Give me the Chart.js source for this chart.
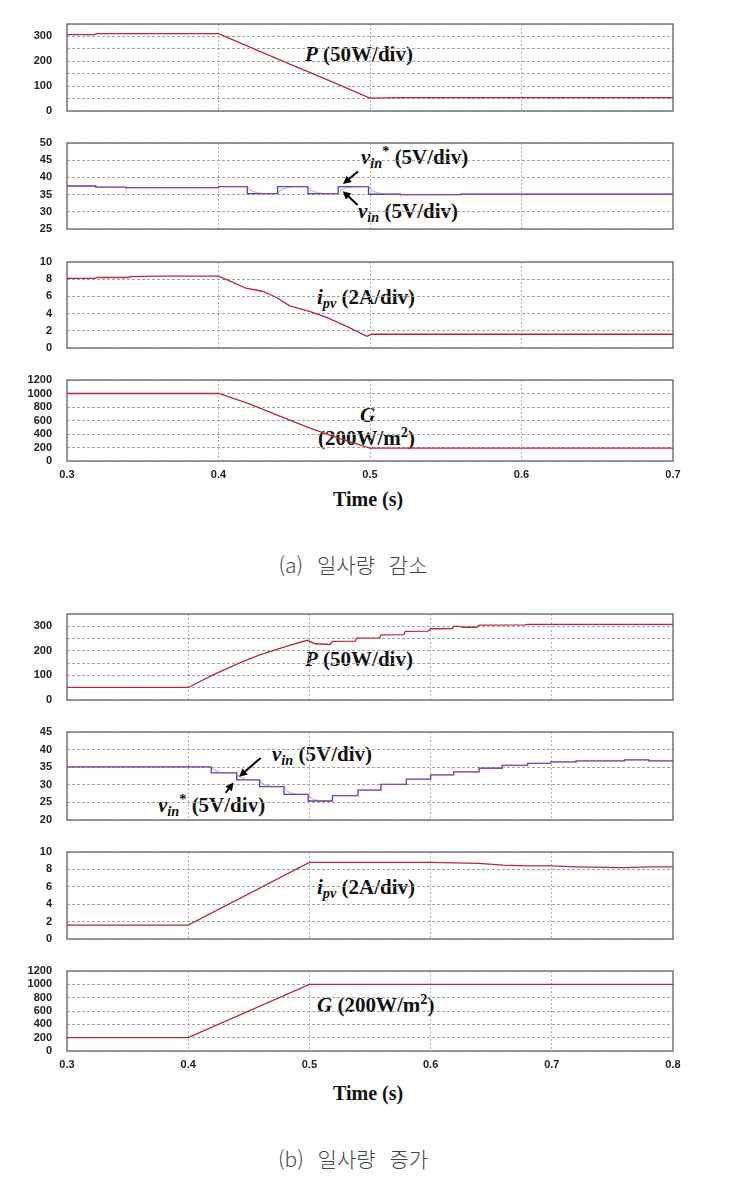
<!DOCTYPE html>
<html lang="ko">
<head>
<meta charset="utf-8">
<title>일사량 변화 응답</title>
<script src="https://cdn.jsdelivr.net/npm/chart.js@4.4.1/dist/chart.umd.min.js"></script>
<style>
  html, body { margin: 0; padding: 0; background: #fff; }
  #page { position: relative; width: 753px; height: 1185px; overflow: hidden; }
  #page canvas { position: absolute; }
  .lbl { position: absolute; font-family: "Liberation Serif", "Times New Roman", serif; font-weight: bold;
         font-size: 21px; line-height: 21px; color: #111; white-space: nowrap; }
  .lbl sub, .lbl sup { line-height: 0; font-size: 0.68em; }
  .lbl sub { vertical-align: -0.3em; }
  .lbl sup { vertical-align: 0.55em; }
  .time { position: absolute; font-family: "Liberation Serif", "Times New Roman", serif; font-weight: bold;
          font-size: 20px; line-height: 20px; color: #111; white-space: nowrap; }
  .cap { position: absolute; left: 0; width: 706px; text-align: center; font-family: "Noto Sans CJK KR", sans-serif;
         font-weight: 300; font-size: 21px; line-height: 24px; color: #444; word-spacing: 8px; }
</style>
</head>
<body>
<div id="page">
  <!-- (a) labels -->
  <div class="lbl" style="left:305px;top:44px"><i>P</i> (50W/div)</div>
  <div class="lbl" style="left:361px;top:147px"><i>v</i><sub><i>in</i></sub><sup>*</sup> (5V/div)</div>
  <div class="lbl" style="left:358px;top:201px"><i>v</i><sub><i>in</i></sub> (5V/div)</div>
  <div class="lbl" style="left:317px;top:287px"><i>i</i><sub><i>pv</i></sub> (2A/div)</div>
  <div class="lbl" style="left:360px;top:405px"><i>G</i></div>
  <div class="lbl" style="left:318px;top:428px">(200W/m<sup>2</sup>)</div>
  <div class="time" style="left:333px;top:489px">Time (s)</div>
  <div class="cap" style="top:552px">(a) 일사량 감소</div>

  <!-- (b) labels -->
  <div class="lbl" style="left:305px;top:649px"><i>P</i> (50W/div)</div>
  <div class="lbl" style="left:272px;top:744px"><i>v</i><sub><i>in</i></sub> (5V/div)</div>
  <div class="lbl" style="left:158px;top:795px"><i>v</i><sub><i>in</i></sub><sup>*</sup> (5V/div)</div>
  <div class="lbl" style="left:317px;top:877px"><i>i</i><sub><i>pv</i></sub> (2A/div)</div>
  <div class="lbl" style="left:317px;top:995px"><i>G</i> (200W/m<sup>2</sup>)</div>
  <div class="time" style="left:333px;top:1083px">Time (s)</div>
  <div class="cap" style="top:1146px">(b) 일사량 증가</div>
</div>
<script>
//-----------------------------------------------------------------------------
// Data, (a) irradiance decrease
const timePA  = [0.3, 0.318, 0.32, 0.4, 0.44, 0.47, 0.5, 0.52, 0.7];
const powerA  = [307, 307, 311, 311, 207, 130, 52, 54, 54];

const timeRefA = [0.3, 0.319, 0.339, 0.4, 0.419, 0.439, 0.459, 0.479, 0.499, 0.52, 0.56, 0.7];
const vinRefA  = [37.5, 37.2, 37.0, 37.3, 35.3, 37.3, 35.3, 37.3, 35.1, 35.0, 35.1, 35.1];

const timeVinA = [0.3, 0.319, 0.3191, 0.339, 0.3391, 0.4, 0.4001, 0.419, 0.421, 0.425, 0.43, 0.439, 0.441, 0.445, 0.45,
                  0.459, 0.461, 0.465, 0.47, 0.479, 0.481, 0.485, 0.49, 0.499, 0.501, 0.505, 0.51, 0.52, 0.5201, 0.56, 0.5601, 0.7];
const vinA     = [37.5, 37.5, 37.2, 37.2, 37.0, 37.0, 37.3, 37.3, 36.3, 35.6, 35.3, 35.3, 36.4, 37.0, 37.3,
                  37.3, 36.3, 35.6, 35.3, 35.3, 36.4, 37.0, 37.3, 37.3, 36.2, 35.5, 35.1, 35.1, 35.0, 35.0, 35.1, 35.1];

const timeIpvA = [0.3, 0.318, 0.32, 0.34, 0.342, 0.36, 0.4, 0.41, 0.418, 0.429, 0.438, 0.447, 0.46, 0.471, 0.486, 0.498, 0.501, 0.7];
const ipvA     = [8.1, 8.1, 8.2, 8.2, 8.3, 8.35, 8.35, 7.6, 6.95, 6.6, 5.9, 4.9, 4.25, 3.6, 2.4, 1.35, 1.6, 1.6];

const timeGA = [0.3, 0.4, 0.42, 0.44, 0.46, 0.48, 0.5, 0.7];
const gA     = [1000, 1000, 850, 670, 490, 330, 190, 190];

// (b) irradiance increase
const timePB = [0.3, 0.4, 0.421, 0.442, 0.459, 0.481, 0.498, 0.505, 0.517, 0.519, 0.538, 0.539, 0.558, 0.559,
                0.578, 0.579, 0.598, 0.6, 0.618, 0.619, 0.624, 0.626, 0.638, 0.64, 0.678, 0.68, 0.8];
const powerB = [51, 51, 103, 150, 184, 218, 243, 229, 226, 239, 240, 252, 253, 265,
                266, 279, 280, 290, 291, 300, 300, 296, 296, 305, 306, 308, 308];

const timeRefB = [0.3, 0.419, 0.44, 0.459, 0.479, 0.499, 0.519, 0.54, 0.559, 0.58, 0.6, 0.619, 0.64, 0.659, 0.68, 0.699, 0.72, 0.76, 0.78, 0.8];
const vinRefB  = [35.1, 33.4, 31.4, 29.5, 27.3, 25.4, 26.9, 28.5, 30.1, 31.6, 32.8, 33.7, 34.7, 35.5, 36.1, 36.5, 36.8, 37.1, 36.8, 36.8];

const timeVinB = [0.3, 0.419, 0.421, 0.425, 0.43, 0.44, 0.442, 0.446, 0.45, 0.459, 0.461, 0.465, 0.47, 0.479, 0.481, 0.485, 0.49,
                  0.499, 0.501, 0.505, 0.51, 0.519, 0.5191, 0.54, 0.5401, 0.559, 0.5591, 0.58, 0.5801, 0.6, 0.6001, 0.619, 0.6191,
                  0.64, 0.6401, 0.659, 0.6591, 0.68, 0.6801, 0.699, 0.6991, 0.72, 0.7201, 0.76, 0.7601, 0.78, 0.7801, 0.8];
const vinB     = [35.1, 35.1, 34.3, 33.7, 33.4, 33.4, 32.4, 31.7, 31.4, 31.4, 30.4, 29.8, 29.5, 29.5, 28.3, 27.6, 27.3,
                  27.3, 26.3, 25.7, 25.4, 25.4, 26.9, 26.9, 28.5, 28.5, 30.1, 30.1, 31.6, 31.6, 32.8, 32.8, 33.7,
                  33.7, 34.7, 34.7, 35.5, 35.5, 36.1, 36.1, 36.5, 36.5, 36.8, 36.8, 37.1, 37.1, 36.8, 36.8];

const timeIpvB = [0.3, 0.4, 0.5, 0.6, 0.64, 0.66, 0.68, 0.7, 0.72, 0.76, 0.78, 0.8];
const ipvB     = [1.6, 1.6, 8.8, 8.8, 8.7, 8.5, 8.4, 8.4, 8.3, 8.2, 8.3, 8.3];

const timeGB = [0.3, 0.4, 0.5, 0.8];
const gB     = [200, 200, 1000, 1000];

// annotation arrows, in (time, volts)
const arrowsA = [{ from: [0.492, 41.7], to: [0.4822, 38.1] }, { from: [0.4919, 32.0], to: [0.482, 36.0] }];
const arrowsB = [{ from: [0.4597, 37.6], to: [0.442, 32.3] }, { from: [0.4309, 27.7], to: [0.4374, 30.65] }];

//-----------------------------------------------------------------------------
// Helpers
const RED = '#b8283a';
const VREF = '#4a46b4';
const VACT = 'rgba(205,80,140,0.45)';
const WY = 60, PAD = 8, PADR = 10, HX = 22;
const page = document.getElementById('page');

function pts(t, v) {
  return t.map(function(x, i) { return { x: x, y: v[i] }; });
}

const framePlugin = {
  id: 'frame',
  beforeDatasetsDraw(chart) {
    const { ctx, chartArea: a } = chart;
    ctx.save();
    ctx.strokeStyle = '#808080';
    ctx.lineWidth = 1.6;
    ctx.strokeRect(a.left, a.top, a.right - a.left, a.bottom - a.top);
    ctx.restore();
  }
};

function arrowPlugin(list) {
  return {
    id: 'arrows',
    afterDatasetsDraw(chart) {
      const { ctx, scales: { x, y } } = chart;
      list.forEach(function(a) {
        const x1 = x.getPixelForValue(a.from[0]), y1 = y.getPixelForValue(a.from[1]);
        const x2 = x.getPixelForValue(a.to[0]), y2 = y.getPixelForValue(a.to[1]);
        const ang = Math.atan2(y2 - y1, x2 - x1);
        const hl = 8, hw = 4;
        ctx.save();
        ctx.strokeStyle = '#000';
        ctx.fillStyle = '#000';
        ctx.lineWidth = 2;
        ctx.beginPath();
        ctx.moveTo(x1, y1);
        ctx.lineTo(x2 - Math.cos(ang) * hl * 0.7, y2 - Math.sin(ang) * hl * 0.7);
        ctx.stroke();
        ctx.beginPath();
        ctx.moveTo(x2, y2);
        ctx.lineTo(x2 - hl * Math.cos(ang) + hw * Math.sin(ang), y2 - hl * Math.sin(ang) - hw * Math.cos(ang));
        ctx.lineTo(x2 - hl * Math.cos(ang) - hw * Math.sin(ang), y2 - hl * Math.sin(ang) + hw * Math.cos(ang));
        ctx.closePath();
        ctx.fill();
        ctx.restore();
      });
    }
  };
}

// box = plot area in page pixels
function addPlot(box, xMax, yMin, yMax, yStep, labelEvery, sets, showX, arrows) {
  const hx = showX ? HX : 0;
  const c = document.createElement('canvas');
  c.width = WY + (box.right - box.left) + PADR;
  c.height = PAD + (box.bottom - box.top) + hx + PAD;
  c.style.left = (box.left - WY) + 'px';
  c.style.top = (box.top - PAD) + 'px';
  page.appendChild(c);
  return new Chart(c, {
    type: 'line',
    data: {
      datasets: sets.map(function(s) {
        return {
          data: s.data,
          borderColor: s.color,
          borderWidth: s.width || 1.3,
          stepped: s.stepped || false,
          pointRadius: 0,
          tension: 0,
          fill: false
        };
      })
    },
    options: {
      responsive: false,
      animation: false,
      layout: { padding: { top: PAD, bottom: PAD, left: 0, right: PADR } },
      plugins: { legend: { display: false }, tooltip: { enabled: false } },
      scales: {
        x: {
          type: 'linear', min: 0.3, max: xMax,
          ticks: {
            display: showX, stepSize: 0.1, padding: 7, color: '#222', maxRotation: 0, autoSkip: false,
            font: { family: 'Liberation Sans', weight: 'bold', size: 11 },
            callback: function(v) { return v.toFixed(1); }
          },
          grid: { color: '#b4b4b4', drawTicks: false, lineWidth: 1 },
          border: { display: false, dash: [2, 2] },
          afterFit: function(s) {
            s.height = hx;
            s.paddingLeft = 0; s.paddingRight = 0;
          }
        },
        y: {
          min: yMin, max: yMax,
          ticks: {
            stepSize: yStep, padding: 15, color: '#222', autoSkip: false,
            font: { family: 'Liberation Sans', weight: 'bold', size: 11 },
            callback: function(v) { return (v % labelEvery === 0) ? v : ''; }
          },
          grid: { color: '#a2a2a2', drawTicks: false, lineWidth: 1 },
          border: { display: false, dash: [3, 2] },
          afterFit: function(s) {
            s.width = WY;
            s.paddingTop = 0; s.paddingBottom = 0;
          }
        }
      }
    },
    plugins: [framePlugin, arrowPlugin(arrows || [])]
  });
}

//-----------------------------------------------------------------------------
// Panel (a)
addPlot({ left: 67, right: 673, top: 24, bottom: 111 }, 0.7, 0, 350, 50, 100,
  [{ data: pts(timePA, powerA), color: RED }], false);
addPlot({ left: 67, right: 673, top: 143, bottom: 229 }, 0.7, 25, 50, 5, 5,
  [{ data: pts(timeVinA, vinA), color: VACT },
   { data: pts(timeRefA, vinRefA), color: VREF, stepped: true }], false, arrowsA);
addPlot({ left: 67, right: 673, top: 262, bottom: 348 }, 0.7, 0, 10, 2, 2,
  [{ data: pts(timeIpvA, ipvA), color: RED }], false);
addPlot({ left: 67, right: 673, top: 380, bottom: 461 }, 0.7, 0, 1200, 200, 200,
  [{ data: pts(timeGA, gA), color: RED }], true);

// Panel (b)
addPlot({ left: 67, right: 673, top: 614, bottom: 700 }, 0.8, 0, 350, 50, 100,
  [{ data: pts(timePB, powerB), color: RED }], false);
addPlot({ left: 67, right: 673, top: 732, bottom: 820 }, 0.8, 20, 45, 5, 5,
  [{ data: pts(timeVinB, vinB), color: VACT },
   { data: pts(timeRefB, vinRefB), color: VREF, stepped: true }], false, arrowsB);
addPlot({ left: 67, right: 673, top: 852, bottom: 939 }, 0.8, 0, 10, 2, 2,
  [{ data: pts(timeIpvB, ipvB), color: RED }], false);
addPlot({ left: 67, right: 673, top: 971, bottom: 1051 }, 0.8, 0, 1200, 200, 200,
  [{ data: pts(timeGB, gB), color: RED }], true);
</script>
</body>
</html>
